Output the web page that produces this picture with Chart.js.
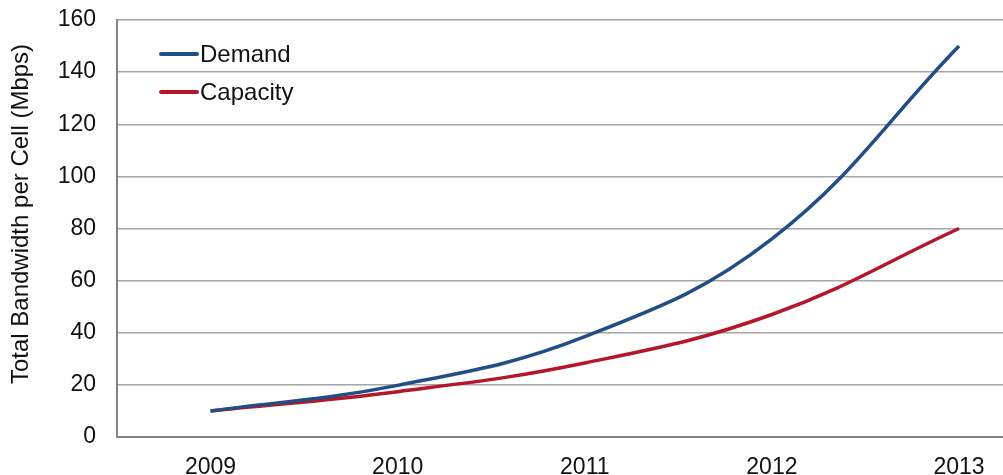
<!DOCTYPE html>
<html>
<head>
<meta charset="utf-8">
<script src="https://cdn.jsdelivr.net/npm/chart.js@4/dist/chart.umd.min.js"></script>
<style>
  html, body { margin: 0; padding: 0; background: #fff; overflow: hidden; }
  #wrap { width: 1003px; height: 475px; position: relative; }
</style>
</head>
<body>
<div id="wrap"><canvas id="bwChart"></canvas></div>
<script>
// Values (Mbps per year)
const years = [2009, 2010, 2011, 2012, 2013];
const demand = [10, 19.8, 38.5, 76, 150];
const capacity = [10, 17.4, 28.4, 47, 80];
const yTicks = [0, 20, 40, 60, 80, 100, 120, 140, 160];
const yTitle = 'Total Bandwidth per Cell (Mbps)';

const FONT = '"Liberation Sans", Arial, Helvetica, sans-serif';

function toPoints(vals) {
  return years.map((x, i) => ({ x: x, y: vals[i] }));
}

// legend inside the plot area (top left) + y title centred on the whole canvas height
const extras = {
  id: 'extras',
  afterDraw(chart) {
    const ctx = chart.ctx;
    const area = chart.chartArea;
    ctx.save();
    ctx.font = '24px ' + FONT;
    ctx.textBaseline = 'middle';
    chart.data.datasets.forEach((ds, i) => {
      const y = area.top + 34 + i * 38;
      const x0 = area.left + 44;
      ctx.strokeStyle = ds.borderColor;
      ctx.lineWidth = 4;
      ctx.lineCap = 'round';
      ctx.beginPath();
      ctx.moveTo(x0, y);
      ctx.lineTo(x0 + 36, y);
      ctx.stroke();
      ctx.fillStyle = '#111';
      ctx.fillText(ds.label, x0 + 39, y + 1);
    });

    // axis title
    ctx.translate(21, 214);
    ctx.rotate(-Math.PI / 2);
    ctx.textAlign = 'center';
    ctx.fillText(yTitle, 0, 0);
    ctx.restore();
  }
};

const ctx = document.getElementById('bwChart').getContext('2d');
const bwChart = new Chart(ctx, {
  type: 'line',
  data: {
    datasets: [
      {
        label: 'Demand',
        data: toPoints(demand),
        borderColor: '#234e85',
        borderWidth: 3.5,
        pointRadius: 0,
        tension: 0.4,
        fill: false
      },
      {
        label: 'Capacity',
        data: toPoints(capacity),
        borderColor: '#b5172a',
        borderWidth: 3.5,
        pointRadius: 0,
        tension: 0.4,
        fill: false
      }
    ]
  },
  options: {
    responsive: true,
    maintainAspectRatio: false,
    animation: false,
    layout: { padding: { left: 0, top: 20, right: 0, bottom: 0 } },
    plugins: {
      legend: { display: false },
      tooltip: { enabled: false }
    },
    scales: {
      x: {
        type: 'linear',
        min: 2008.5,
        max: 2013.235,
        afterBuildTicks: axis => { axis.ticks = years.map(v => ({ value: v })); },
        afterFit: axis => { axis.height = 38; axis.paddingLeft = 0; axis.paddingRight = 0; },
        ticks: {
          callback: v => String(v),
          color: '#111',
          font: { family: FONT, size: 23 },
          padding: 17,
          maxRotation: 0,
          autoSkip: false
        },
        grid: { display: false, drawTicks: false },
        border: { display: true, color: '#858585', width: 2 }
      },
      y: {
        min: 0,
        max: 160,
        afterBuildTicks: axis => { axis.ticks = yTicks.map(v => ({ value: v })); },
        afterFit: axis => { axis.width = 117; axis.paddingTop = 0; axis.paddingBottom = 0; },
        ticks: {
          color: '#111',
          font: { family: FONT, size: 23 },
          padding: 21
        },
        grid: { color: '#a6a6a6', lineWidth: 1.5, drawTicks: false },
        border: { display: true, color: '#858585', width: 2 },
        title: { display: false }
      }
    }
  },
  plugins: [extras]
});
</script>
</body>
</html>
